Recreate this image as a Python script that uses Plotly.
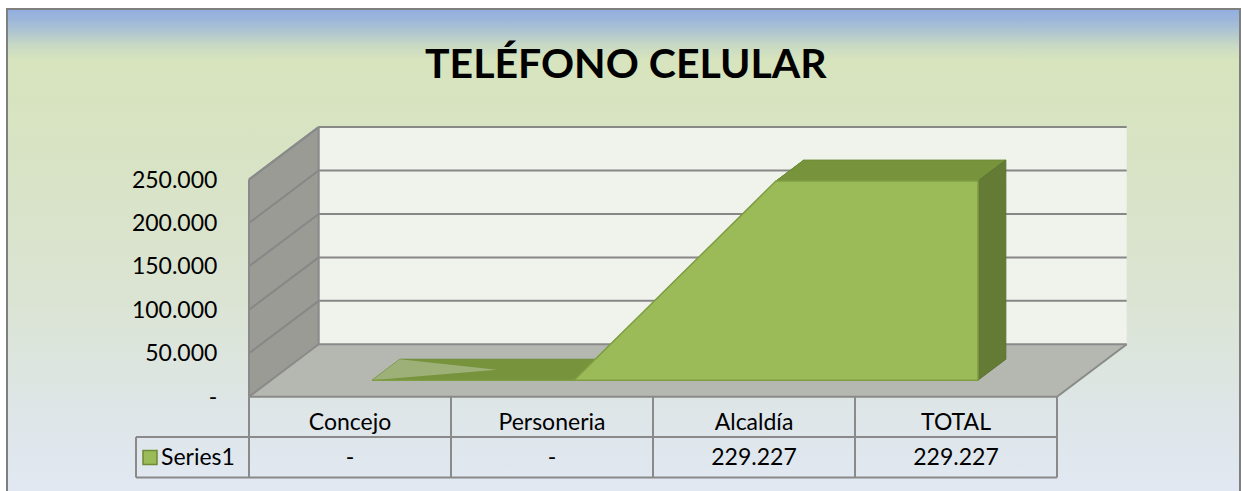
import plotly.graph_objects as go

# ---------------- data ----------------
title = "TELÉFONO CELULAR"
categories = ["Concejo", "Personeria", "Alcaldía", "TOTAL"]
series_name = "Series1"
values = [0, 0, 229227, 229227]
y_ticks = [0, 50000, 100000, 150000, 200000, 250000]
y_max = 250000


def fmt(v):
    if v == 0:
        return "-"
    return f"{v:,.0f}".replace(",", ".")


value_labels = [fmt(v) for v in values]
tick_labels = [fmt(t) for t in y_ticks]

# ---------------- geometry (pixel layout of the oblique projection) ----------------
W, H = 1242, 491
PX_CAT0 = 350.0      # px of category 0 on the front edge
CAT_W = 202.0        # px per category
PX_ZERO = 396.7      # px of value 0 on the front edge
PPU = 217.2 / y_max  # px per value unit
DEPTH_DX = 69.7      # px horizontal depth
DEPTH_DY = 52.4      # px vertical depth
D_FRONT, D_BACK = 0.315, 0.715  # depth slab occupied by the series

ddx = DEPTH_DX / CAT_W
ddy = DEPTH_DY / PPU


def px_to_x(px):
    return (px - PX_CAT0) / CAT_W


def px_to_y(py):
    return (PX_ZERO - py) / PPU


def proj(i, v, d):
    return i + ddx * d, v + ddy * d


x_range = [px_to_x(0), px_to_x(W)]
y_range = [px_to_y(H), px_to_y(0)]

n = len(categories)
xl, xr = -0.5, n - 0.5

fig = go.Figure()


def poly(pts, fill, line_color=None, lw=0):
    xs = [p[0] for p in pts] + [pts[0][0]]
    ys = [p[1] for p in pts] + [pts[0][1]]
    fig.add_trace(go.Scatter(
        x=xs, y=ys, mode="lines", fill="toself", fillcolor=fill,
        line=dict(color=line_color or fill, width=lw), hoverinfo="skip",
        showlegend=False))


def lines(segs, color, width):
    xs, ys = [], []
    for (a, b) in segs:
        xs += [a[0], b[0], None]
        ys += [a[1], b[1], None]
    fig.add_trace(go.Scatter(x=xs, y=ys, mode="lines",
                             line=dict(color=color, width=width),
                             hoverinfo="skip", showlegend=False))


# ---------------- background gradient inside frame ----------------
FRAME_L, FRAME_T, FRAME_R = 7, 9, 1240
grad = [(491, "#e1e8f2"), (420, "#dee6e9"), (300, "#dbe4d3"), (150, "#d8e3c4"),
        (60, "#d7e4bd"), (46, "#c9dac4"), (32, "#b0c6d0"), (20, "#9db7da"), (10, "#92aee0")]
cs = [[(491 - p) / (491 - FRAME_T), c] for p, c in grad]
cs[-1][0] = 1.0
bx = [px_to_x(FRAME_L), px_to_x(FRAME_R), px_to_x(FRAME_R), px_to_x(FRAME_L), px_to_x(FRAME_L)]
by = [px_to_y(FRAME_T), px_to_y(FRAME_T), px_to_y(H + 5), px_to_y(H + 5), px_to_y(FRAME_T)]
fig.add_trace(go.Scatter(
    x=bx, y=by, mode="lines", fill="toself", line=dict(width=0, color="rgba(0,0,0,0)"),
    fillgradient=dict(type="vertical", colorscale=cs,
                      start=px_to_y(491), stop=px_to_y(FRAME_T)),
    hoverinfo="skip", showlegend=False))

# ---------------- walls & floor ----------------
edge = "#8a8a8a"
side = [proj(xl, 0, 0), proj(xl, 0, 1), proj(xl, y_max, 1), proj(xl, y_max, 0)]
back = [proj(xl, 0, 1), proj(xr, 0, 1), proj(xr, y_max, 1), proj(xl, y_max, 1)]
floor = [proj(xl, 0, 0), proj(xr, 0, 0), proj(xr, 0, 1), proj(xl, 0, 1)]
poly(back, "#f0f3ec")
poly(side, "#999b94")
poly(floor, "#b5b8b0")

grid_segs = []
for t in y_ticks[1:]:
    grid_segs.append((proj(xl, t, 0), proj(xl, t, 1)))
    grid_segs.append((proj(xl, t, 1), proj(xr, t, 1)))
lines(grid_segs, "#878787", 2)

edge_segs = [
    (proj(xl, 0, 0), proj(xl, y_max, 0)),
    (proj(xl, y_max, 0), proj(xl, y_max, 1)),
    (proj(xl, 0, 0), proj(xl, 0, 1)),
    (proj(xl, 0, 1), proj(xl, y_max, 1)),
    (proj(xl, 0, 1), proj(xr, 0, 1)),
    (proj(xr, 0, 0), proj(xr, 0, 1)),
]
lines(edge_segs, edge, 2)

# ---------------- 3D area series ----------------
top_col = "#77933c"
for i in range(n - 1):
    quad = [proj(i, values[i], D_FRONT), proj(i + 1, values[i + 1], D_FRONT),
            proj(i + 1, values[i + 1], D_BACK), proj(i, values[i], D_BACK)]
    poly(quad, top_col, "#6f8b36", 1)
# lighter sheen on the flat zero part
dm = (D_FRONT + D_BACK) / 2
poly([proj(0, values[0], D_FRONT), proj(0, values[0], D_BACK), proj(0.55, values[0], dm)],
     "rgba(170,185,140,0.75)")
# right side face
last = n - 1
poly([proj(last, values[last], D_FRONT), proj(last, values[last], D_BACK),
      proj(last, 0, D_BACK), proj(last, 0, D_FRONT)], "#647b36", "#5d7331", 1)
# front face
front = [proj(i, values[i], D_FRONT) for i in range(n)]
front += [proj(last, 0, D_FRONT), proj(0, 0, D_FRONT)]
poly(front, "#9bbb59", "#7f9e44", 1.5)

# ---------------- data table ----------------
ROW1_B = px_to_y(437)
ROW2_B = px_to_y(477.5)
LEG_L = px_to_x(136)
tcol = "#8a8a8a"
tsegs = [
    ((xl, 0), (xr, 0)),
    ((LEG_L, ROW1_B), (xr, ROW1_B)),
    ((LEG_L, ROW2_B), (xr, ROW2_B)),
    ((LEG_L, ROW1_B), (LEG_L, ROW2_B)),
]
for k in range(n + 1):
    xb = xl + k
    tsegs.append(((xb, 0), (xb, ROW2_B)))
lines(tsegs, tcol, 2)

font_family = "Lato, 'Open Sans', sans-serif"
fig.add_trace(go.Scatter(
    x=list(range(n)), y=[px_to_y(424)] * n, mode="text", text=categories,
    textposition="middle center", textfont=dict(family=font_family, size=23, color="#000"),
    hoverinfo="skip", showlegend=False))
fig.add_trace(go.Scatter(
    x=list(range(n)), y=[px_to_y(459.5)] * n, mode="text", text=value_labels,
    textposition="middle center", textfont=dict(family=font_family, size=23, color="#000"),
    hoverinfo="skip", showlegend=False))
# legend key
fig.add_trace(go.Scatter(
    x=[px_to_x(150)], y=[px_to_y(457.5)], mode="markers",
    marker=dict(symbol="square", size=14, color="#9bbb59", line=dict(color="#6f8b36", width=1.5)),
    hoverinfo="skip", showlegend=False))
fig.add_trace(go.Scatter(
    x=[px_to_x(161)], y=[px_to_y(459.5)], mode="text", text=[series_name],
    textposition="middle right", textfont=dict(family=font_family, size=23, color="#000"),
    hoverinfo="skip", showlegend=False))

# ---------------- layout ----------------
fig.update_layout(
    width=W, height=H, margin=dict(l=0, r=0, t=0, b=0),
    paper_bgcolor="white", plot_bgcolor="rgba(0,0,0,0)",
    showlegend=False,
    xaxis=dict(range=x_range, visible=False, fixedrange=True),
    yaxis=dict(range=y_range, showgrid=False, zeroline=False, showline=False,
               tickvals=y_ticks, ticktext=tick_labels, ticks="outside", ticklen=27,
               tickcolor="rgba(0,0,0,0)", anchor="free", position=249 / W,
               tickfont=dict(family=font_family, size=23, color="#000"), fixedrange=True),
    annotations=[dict(text=f"<b>{title}</b>", x=626 / W, y=1 - 62 / H, xref="paper", yref="paper",
                      xanchor="center", yanchor="middle", showarrow=False,
                      font=dict(family=font_family, size=41, color="#000"))],
    shapes=[dict(type="rect", xref="paper", yref="paper",
                 x0=FRAME_L / W, x1=FRAME_R / W, y0=-0.05, y1=1 - FRAME_T / H,
                 line=dict(color="#7f7f7f", width=2), layer="above")],
)

fig.write_html("out.html")
